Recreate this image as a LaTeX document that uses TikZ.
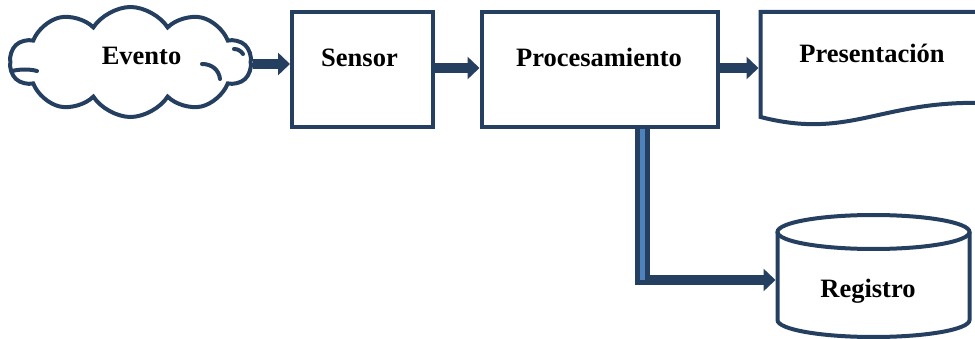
\documentclass[tikz,border=0pt]{standalone}
\usepackage{fontspec}
\setmainfont{Liberation Serif}
\usetikzlibrary{arrows.meta,shapes.symbols}
\definecolor{navy}{HTML}{243F60}
\definecolor{stripe}{HTML}{4F81BD}
\begin{document}
\begin{tikzpicture}[x=1pt,y=-1pt,
  outline/.style={draw=navy,line width=4pt},
  txt/.style={font=\fontsize{26.5}{30}\selectfont\bfseries,anchor=base,inner sep=0pt},
  flow/.style={draw=navy,line width=10pt,-{Triangle[width=22pt,length=12pt]}},
  box/.style={outline,rectangle,inner sep=0pt}]
\useasboundingbox (0,0) rectangle (975,339);

% source cloud with a few inner puff lines
\node[outline,cloud,cloud puffs=10,cloud puff arc=115,aspect=2.2,
      minimum width=241,minimum height=110,inner sep=0pt] (evento) at (130.5,62) {};
\draw[outline,line cap=round] (234,49) .. controls (238,49) and (241,51) .. (243,54);
\draw[outline,line cap=round] (202,64) .. controls (212,64) and (219,70) .. (220,79);
\draw[outline,line cap=round] (12,71) .. controls (20,69) and (30,69) .. (37,71);
\node[txt] (eventotext) at (141.5,65) {Evento};

% sensor and processing blocks
\node[box,minimum width=140.5,minimum height=115.5] (sensor) at (362.25,69.75) {};
\node[txt] (sensortext) at (359.5,66.5) {Sensor};
\node[box,minimum width=236,minimum height=115.5] (proc) at (599.5,69.75) {};
\node[txt] (proctext) at (599,66.5) {Procesamiento};

% display: document shape with wavy bottom
\node[rectangle,minimum width=224.5,minimum height=105,inner sep=0pt,outer sep=2pt] (pres) at (872.75,64.5) {};
\draw[outline] (985,12) -- (760.5,12) -- (760.5,117)
  .. controls (850,140) and (880,100) .. (985,103);
\node[txt] (prestext) at (872,63) {Presentación};

% storage: cylinder
\node[rectangle,minimum width=192,minimum height=105,inner sep=0pt,outer sep=2pt] (reg) at (873.5,275) {};
\draw[outline] (873.5,232) ellipse [x radius=96,y radius=17];
\draw[outline] (777.5,232) -- (777.5,320)
  arc[start angle=180,end angle=0,x radius=96,y radius=17] -- (969.5,232);
\node[txt] (regtext) at (868,298) {Registro};

% main flow
\draw[flow] (evento.east |- 0,64) -- (sensor.west |- 0,64);
\draw[flow] (sensor.east |- 0,68) -- (proc.west |- 0,68);
\draw[flow] (proc.east |- 0,68) -- (pres.west |- 0,68);

% branch to storage
\coordinate (corner) at (642.5,280);
\draw[navy,line width=15pt,shorten >=-5pt] (proc.south -| corner) -- (corner);
\draw[stripe,line width=5pt] (proc.south -| corner) -- (corner);
\draw[flow] ([xshift=6pt]corner) -- (reg.west |- corner);
\end{tikzpicture}
\end{document}
